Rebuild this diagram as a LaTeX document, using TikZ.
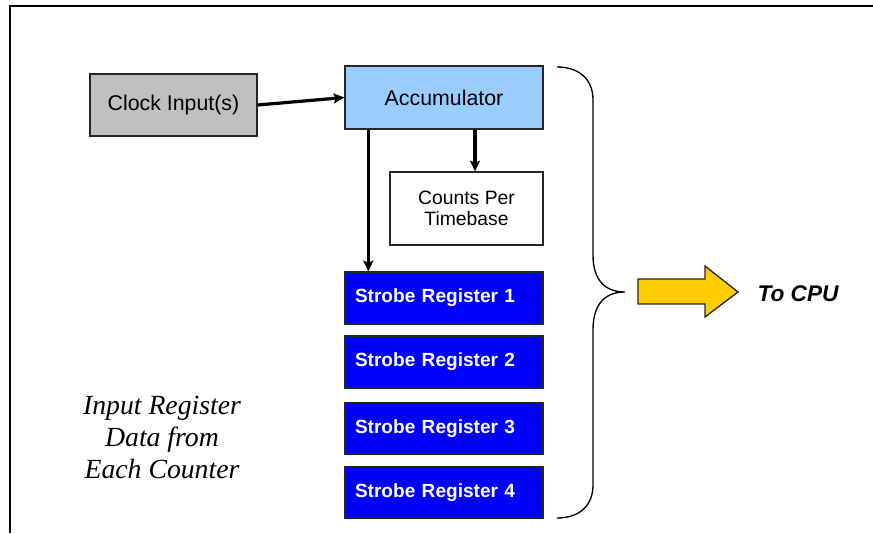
\documentclass[tikz,border=0pt]{standalone}
\usepackage{fontspec}
\setmainfont{Liberation Serif}
\setsansfont{Liberation Sans}
\usetikzlibrary{arrows.meta}
\definecolor{clockgray}{HTML}{C0C0C0}
\definecolor{accblue}{HTML}{99CCFF}
\definecolor{regblue}{HTML}{0000FF}
\definecolor{cpuyellow}{HTML}{FFCC00}
\begin{document}
\begin{tikzpicture}[x=0.75pt,y=-0.75pt,
  box/.style={draw=black!85,line width=1pt,inner sep=0pt,align=center,
    font=\sffamily\fontsize{16}{19}\selectfont},
  reg/.style={draw=black!85,line width=1pt,fill=regblue,text=white,
    minimum height=39pt,text width=133.5pt,inner xsep=7.5pt,align=left,
    font=\sffamily\bfseries\fontsize{14.3}{17}\selectfont},
  arr/.style={-{Stealth[length=8pt,width=7.5pt,inset=1.5pt]},line width=2.4pt}]
  \useasboundingbox (0,0) rectangle (873,533);
  % frame
  \draw[line width=1.5pt] (10,533) -- (10,6) -- (873,6);
  \node[box,fill=clockgray,minimum width=125.25pt,minimum height=46.5pt] (clock) at (173.5,105) {Clock Input(s)};
  \node[box,fill=accblue,minimum width=148.5pt,minimum height=47.25pt] (acc) at (444,97.5) {Accumulator};
  \node[box,fill=white,minimum width=114.75pt,minimum height=54.75pt,
    font=\sffamily\fontsize{14.5}{16}\selectfont] (cpt) at (466.5,208.5) {Counts Per\\Timebase};
  \node[reg] (reg1) at (444,298) {Strobe Register 1};
  \node[reg] (reg2) at (444,362) {Strobe Register 2};
  \node[reg] (reg3) at (444,428.5) {Strobe Register 3};
  \node[reg] (reg4) at (444,492.5) {Strobe Register 4};
  \draw[arr] (clock.east) -- (acc.west);
  \draw[arr] ([xshift=6.4pt]cpt.north |- acc.south) -- ([xshift=6.4pt]cpt.north);
  \draw[arr] ([xshift=18pt]acc.south west) -- ([xshift=18pt]reg1.north west);
  % brace round the registers
  \draw[line width=1pt] (557,67) .. controls (580,67) and (593,80) .. (593,100) -- (593,255)
    .. controls (593,280) and (605,292) .. (625,292)
    .. controls (605,292) and (593,304) .. (593,330) -- (593,485)
    .. controls (593,505) and (580,518) .. (557,518);
  % yellow arrow to the CPU
  \draw[draw=black!85,line width=1pt,fill=cpuyellow] (638,279) -- (705,279) -- (705,266)
    -- (738,292) -- (705,317) -- (705,304) -- (638,304) -- cycle;
  \node[font=\sffamily\bfseries\itshape\fontsize{17}{20}\selectfont] (cpu) at (798,294) {To CPU};
  \node[align=center,font=\itshape\fontsize{20.8}{24}\selectfont] (input) at (162,437)
    {Input Register\\Data from\\Each Counter};
\end{tikzpicture}
\end{document}
